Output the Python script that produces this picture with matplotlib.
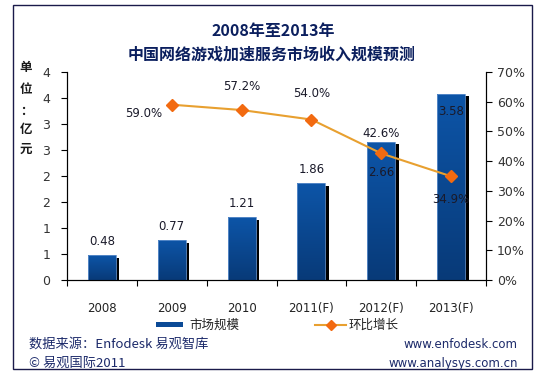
import numpy as np
import matplotlib
matplotlib.use("Agg")
import matplotlib.pyplot as plt
from matplotlib.patches import Rectangle
from matplotlib.lines import Line2D
from matplotlib.colors import LinearSegmentedColormap

plt.rcParams['font.family'] = ['Noto Sans CJK SC', 'DejaVu Sans']

# ---- data ----
categories = ["2008", "2009", "2010", "2011(F)", "2012(F)", "2013(F)"]
market_size = [0.48, 0.77, 1.21, 1.86, 2.66, 3.58]
growth_years = ["2009", "2010", "2011(F)", "2012(F)", "2013(F)"]
growth_rate = [59.0, 57.2, 54.0, 42.6, 34.9]
left_ticks = [0, 0.5, 1.0, 1.5, 2.0, 2.5, 3.0, 3.5, 4.0]
left_tick_labels = ["0", "1", "1", "2", "2", "3", "3", "4", "4"]
right_ticks = [0, 10, 20, 30, 40, 50, 60, 70]
right_tick_labels = ["0%", "10%", "20%", "30%", "40%", "50%", "60%", "70%"]

title_lines = ["2008年至2013年", "中国网络游戏加速服务市场收入规模预测"]
unit_chars = ["单", "位", "：", "亿", "元"]
legend_labels = ["市场规模", "环比增长"]
source_text = "数据来源：Enfodesk 易观智库"
copyright_text = "© 易观国际2011"
site1 = "www.enfodesk.com"
site2 = "www.analysys.com.cn"

# label offsets in points (dx, dy)
bar_label_offsets = [(0, 10), (0, 10), (0, 10), (0, 10), (0, -22), (0, -13)]
pct_label_offsets = [(-20, -6), (0, 17), (0, 19), (0, 14), (0, -17)]

W, H = 540, 375
fig = plt.figure(figsize=(W / 100, H / 100), dpi=100)
fig.patch.set_facecolor("white")

def fx(px):
    return px / W

def fy(py):
    return 1 - py / H

# frame
fig.patches.append(Rectangle((fx(13), fy(369)), fx(532) - fx(13), fy(5) - fy(369),
                             transform=fig.transFigure, fill=False,
                             edgecolor="#1a1a4a", linewidth=1.0))

ax = fig.add_axes([fx(67), fy(280), fx(486) - fx(67), fy(72) - fy(280)])
ax2 = ax.twinx()

x = np.arange(len(categories))
bw = 0.4

grad = np.linspace(0, 1, 256).reshape(-1, 1)
cmap = LinearSegmentedColormap.from_list("bar", ["#083a78", "#0d55a8"])

for xi, v in zip(x, market_size):
    ax.add_patch(Rectangle((xi - bw / 2 + 0.05, 0), bw, v - 0.05,
                           facecolor="black", edgecolor="none", zorder=2))
    rect = Rectangle((xi - bw / 2, 0), bw, v, facecolor="none",
                     edgecolor="#5f8fcc", linewidth=0.6, zorder=4)
    ax.add_patch(rect)
    im = ax.imshow(grad, cmap=cmap, aspect="auto", origin="lower",
                   extent=[xi - bw / 2, xi + bw / 2, 0, v], zorder=3)
    im.set_clip_path(rect)

ax.set_xlim(-0.5, len(categories) - 0.5)
ax.set_ylim(0, 4)

for xi, v, (dx, dy) in zip(x, market_size, bar_label_offsets):
    ax.annotate(f"{v:.2f}", (xi, v), xytext=(dx, dy), textcoords="offset points",
                ha="center", va="center", fontsize=8.5, color="#1a1a2a",
                family="DejaVu Sans", zorder=6)

ax.set_xticks(np.arange(len(categories) + 1) - 0.5, minor=False)
ax.set_xticklabels([])
ax.set_xticks(x, minor=True)
ax.set_xticklabels(categories, minor=True)
ax.tick_params(axis="x", which="minor", length=0, pad=16, labelsize=8.5, labelcolor="#222222")
ax.tick_params(axis="x", which="major", length=4, direction="out")
for lab in ax.get_xticklabels(minor=True):
    lab.set_family("DejaVu Sans")

ax.set_yticks(left_ticks)
ax.set_yticklabels(left_tick_labels, family="DejaVu Sans")
ax.tick_params(axis="y", length=4, direction="out", labelsize=9, labelcolor="#333333", pad=8)

ax2.set_ylim(0, 70)
ax2.set_yticks(right_ticks)
ax2.set_yticklabels(right_tick_labels, family="DejaVu Sans")
ax2.tick_params(axis="y", length=4, direction="out", labelsize=9, labelcolor="#333333", pad=4)

gx = [categories.index(g) for g in growth_years]
ax2.plot(gx, growth_rate, color="#e8a030", linewidth=1.5, marker="D",
         markersize=6, markerfacecolor="#f26a10", markeredgecolor="#f26a10", zorder=5)
for gxi, r, (dx, dy) in zip(gx, growth_rate, pct_label_offsets):
    ax2.annotate(f"{r:.1f}%", (gxi, r), xytext=(dx, dy), textcoords="offset points",
                 ha="center", va="center", fontsize=8.5, color="#1a1a2a",
                 family="DejaVu Sans", zorder=6)

for a in (ax, ax2):
    a.spines["top"].set_visible(False)
    a.set_facecolor("none")
    for s in ("left", "right", "bottom"):
        a.spines[s].set_color("black")
        a.spines[s].set_linewidth(0.8)
ax.set_zorder(1)
ax2.set_zorder(2)

# titles
fig.text(fx(273), fy(31), title_lines[0], ha="center", va="center",
         fontsize=11.5, fontweight="bold", color="#0b1f5e")
fig.text(fx(272), fy(54), title_lines[1], ha="center", va="center",
         fontsize=11.5, fontweight="bold", color="#0b1f5e")

# unit label
unit_y = [68, 90, 111, 129, 149]
for ch, yy in zip(unit_chars, unit_y):
    fig.text(fx(26), fy(yy), ch, ha="center", va="center", fontsize=9,
             fontweight="bold", color="#1a1a1a")

# legend
fig.patches.append(Rectangle((fx(156), fy(327)), fx(183) - fx(156), fy(322) - fy(327),
                             transform=fig.transFigure, facecolor="#0b4a96", edgecolor="none"))
fig.text(fx(189), fy(325), legend_labels[0], ha="left", va="center", fontsize=9, color="#222222")
fig.lines.append(Line2D([fx(315), fx(346)], [fy(325), fy(325)], transform=fig.transFigure,
                        color="#e8a030", linewidth=1.5))
fig.lines.append(Line2D([fx(330.5)], [fy(325)], transform=fig.transFigure, marker="D",
                        markersize=5, color="#f26a10", linestyle="none"))
fig.text(fx(349), fy(325), legend_labels[1], ha="left", va="center", fontsize=9, color="#222222")

# footer
fig.text(fx(29), fy(344), source_text, ha="left", va="center", fontsize=9.5, color="#1c2a6a")
fig.text(fx(29), fy(363), copyright_text, ha="left", va="center", fontsize=9.5, color="#1c2a6a")
fig.text(fx(517), fy(344), site1, ha="right", va="center", fontsize=8.5, color="#1c2a6a",
         family="DejaVu Sans")
fig.text(fx(518), fy(363), site2, ha="right", va="center", fontsize=8.5, color="#1c2a6a",
         family="DejaVu Sans")

fig.savefig("out.png", dpi=100, facecolor="white")
